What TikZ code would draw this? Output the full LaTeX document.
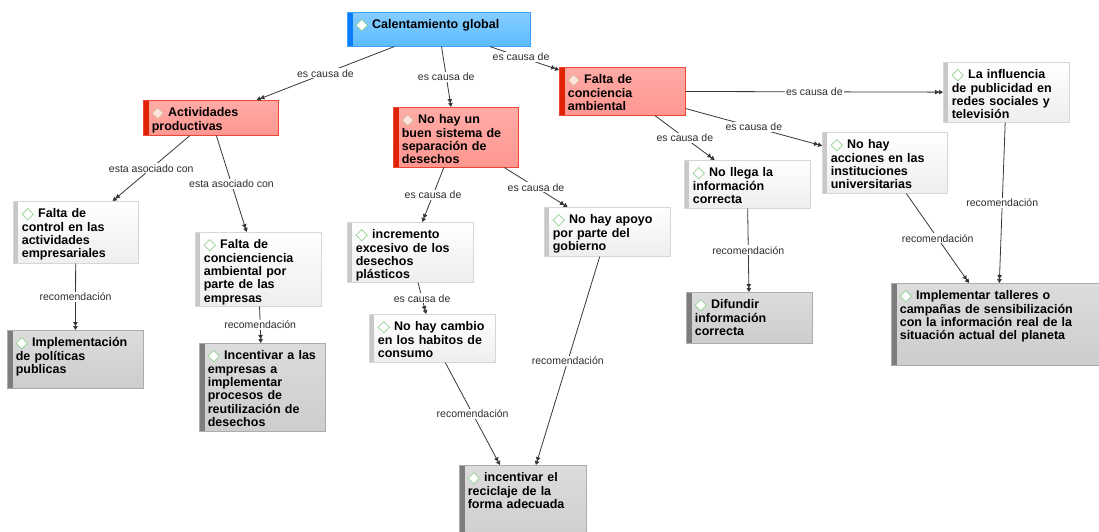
\documentclass[tikz,border=0pt]{standalone}
\usepackage{fontspec}
\setmainfont{Liberation Sans}
\usetikzlibrary{arrows.meta}
\definecolor{rootfill}{RGB}{92,188,255}
\definecolor{rootline}{RGB}{60,160,255}
\definecolor{rootstrip}{RGB}{10,125,255}
\definecolor{causefill}{RGB}{255,150,144}
\definecolor{causeline}{RGB}{238,70,55}
\definecolor{causestrip}{RGB}{225,35,5}
\definecolor{litefill}{RGB}{238,238,238}
\definecolor{liteline}{RGB}{214,214,214}
\definecolor{litestrip}{RGB}{200,200,200}
\definecolor{darkfill}{RGB}{205,205,205}
\definecolor{darkline}{RGB}{172,172,172}
\definecolor{darkstrip}{RGB}{125,125,125}
\definecolor{icogreen}{RGB}{150,210,150}
\definecolor{icotan}{RGB}{215,185,150}
\definecolor{icopink}{RGB}{255,228,222}
\definecolor{edgeline}{RGB}{55,55,55}
\definecolor{lbltext}{RGB}{45,45,45}
\newcommand{\cptfont}{\fontsize{12.5}{13.3}\selectfont\bfseries\hyphenpenalty=10000\exhyphenpenalty=10000}
\newcommand{\lblfont}{\fontsize{10.5}{12}\selectfont}
\newcommand{\dmd}[2]{\tikz[baseline=-3.5pt]\draw[#1,fill=#2,line width=0.7pt] (0pt,5.6pt)--(5.6pt,0pt)--(0pt,-5.6pt)--(-5.6pt,0pt)--cycle;\hspace{4.5pt}}
\newcommand{\dmdg}{\dmd{icogreen}{white}}
\newcommand{\dmdr}{\dmd{icotan}{icopink}}

\begin{document}
\begin{tikzpicture}[x=1pt,y=-1pt]
    \useasboundingbox (0,0) rectangle (1099,531);

    \tikzstyle{cpt}=[anchor=north west,inner xsep=8.5pt,inner ysep=0pt,text height=16.5pt,align=left,font=\cptfont,line width=0.6pt]
    \tikzstyle{root}=[cpt,draw=rootline,top color=rootfill!75!white,bottom color=rootfill,path picture={\fill[rootstrip] (path picture bounding box.north west) rectangle ([xshift=6pt]path picture bounding box.south west);}]
    \tikzstyle{cause}=[cpt,draw=causeline,top color=causefill!80!white,bottom color=causefill,path picture={\fill[causestrip] (path picture bounding box.north west) rectangle ([xshift=6pt]path picture bounding box.south west);}]
    \tikzstyle{lite}=[cpt,draw=liteline,top color=white,bottom color=litefill,path picture={\fill[litestrip] (path picture bounding box.north west) rectangle ([xshift=5pt]path picture bounding box.south west);}]
    \tikzstyle{dark}=[cpt,draw=darkline,top color=darkfill!70!white,bottom color=darkfill,path picture={\fill[darkstrip] (path picture bounding box.north west) rectangle ([xshift=6pt]path picture bounding box.south west);}]

    \node[root,text width=166pt,text depth=17.5pt] (cg) at (347,12) {\dmdg Calentamiento global};

    \node[cause,text width=118pt,text depth=18.5pt] (act) at (143,100) {\dmdr Actividades\\productivas};
    \node[cause,text width=108pt,text depth=43.5pt] (sep) at (393,107) {\dmdr No hay un\\buen sistema de\\separación de\\desechos};
    \node[cause,text width=109pt,text depth=31.5pt] (fca) at (559,67) {\dmdr Falta de\\conciencia\\ambiental};

    \node[lite,text width=109pt,text depth=43.5pt] (inf) at (943,62) {\dmdg La influencia\\de publicidad en\\redes sociales y\\televisión};
    \node[lite,text width=108pt,text depth=45.5pt] (ctl) at (13,201) {\dmdg Falta de\\control en las\\actividades\\empresariales};
    \node[lite,text width=109pt,text depth=57.5pt] (emp) at (195,232) {\dmdg Falta de\\concienciencia\\ambiental por\\parte de las\\empresas};
    \node[lite,text width=109pt,text depth=43.5pt] (inc) at (347,222) {\dmdg incremento\\excesivo de los\\desechos\\plásticos};
    \node[lite,text width=109pt,text depth=32.5pt] (apo) at (544,207) {\dmdg No hay apoyo\\por parte del\\gobierno};
    \node[lite,text width=109pt,text depth=31.5pt] (cam) at (369,314) {\dmdg No hay cambio\\en los habitos de\\consumo};
    \node[lite,text width=109pt,text depth=31.5pt] (lle) at (684,160) {\dmdg No llega la\\información\\correcta};
    \node[lite,text width=108pt,text depth=44.5pt] (acc) at (822,132) {\dmdg No hay\\acciones en las\\instituciones\\universitarias};

    \node[dark,text width=119pt,text depth=41.5pt] (imp) at (7,330) {\dmdg Implementación\\de políticas\\publicas};
    \node[dark,text width=109pt,text depth=71.5pt] (iem) at (199,343) {\dmdg Incentivar a las\\empresas a\\implementar\\procesos de\\reutilización de\\desechos};
    \node[dark,text width=110pt,text depth=68.5pt] (rec) at (459,465) {\dmdg incentivar el\\reciclaje de la\\forma adecuada};
    \node[dark,text width=109pt,text depth=34.5pt] (dif) at (686,292) {\dmdg Difundir\\información\\correcta};
    \node[dark,text width=196pt,text depth=65.5pt] (tal) at (891,283) {\dmdg Implementar talleres o\\campañas de sensibilización\\con la información real de la\\situación actual del planeta};

    \tikzstyle{fwd}=[draw=edgeline,line width=0.8pt,-{Triangle[length=4pt,width=4.5pt]Triangle[length=4pt,width=4.5pt]}]
    \tikzstyle{lbl}=[fill=white,inner sep=1pt,font=\lblfont,text=lbltext]

          \draw [fwd] (cg) -- node[lbl] (l1) {es causa de} (act);
          \draw [fwd] (cg) -- node[lbl] (l2) {es causa de} (sep);
          \draw [fwd] (cg) -- node[lbl,pos=0.45] (l3) {es causa de} (fca);
          \draw [fwd] (act) -- node[lbl] (l4) {esta asociado con} (ctl);
          \draw [fwd] (act) -- node[lbl] (l5) {esta asociado con} (emp);
          \draw [fwd] (sep) -- node[lbl] (l6) {es causa de} (inc);
          \draw [fwd] (sep) -- node[lbl] (l7) {es causa de} (apo);
          \draw [fwd] (fca) -- node[lbl] (l8) {es causa de} (inf);
          \draw [fwd] (fca) -- node[lbl] (l9) {es causa de} (lle);
          \draw [fwd] (fca) -- node[lbl] (l10) {es causa de} (acc);
          \draw [fwd] (ctl) -- node[lbl] (l11) {recomendación} (imp);
          \draw [fwd] (emp) -- node[lbl] (l12) {recomendación} (iem);
          \draw [fwd] (inc) -- node[lbl] (l13) {es causa de} (cam);
          \draw [fwd] (cam) -- node[lbl] (l14) {recomendación} (rec);
          \draw [fwd] (apo) -- node[lbl] (l15) {recomendación} (rec);
          \draw [fwd] (lle) -- node[lbl] (l16) {recomendación} (dif);
          \draw [fwd] (acc) -- node[lbl] (l17) {recomendación} (tal);
          \draw [fwd] (inf) -- node[lbl] (l18) {recomendación} (tal);

  \end{tikzpicture}
\end{document}
